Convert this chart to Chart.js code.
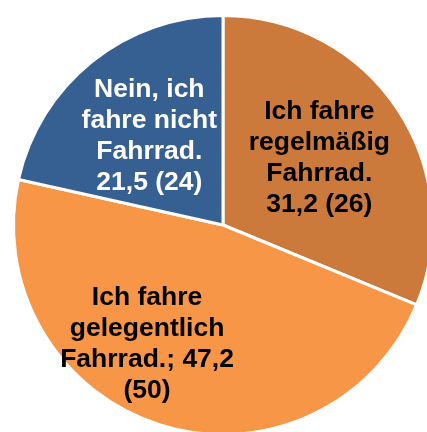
<!DOCTYPE html>
<html>
<head>
<meta charset="utf-8">
<script src="https://cdn.jsdelivr.net/npm/chart.js@4/dist/chart.umd.min.js"></script>
<style>
  html, body { margin: 0; padding: 0; background: #fff; overflow: hidden; }
  #wrap { width: 427px; height: 432px; overflow: hidden; }
</style>
</head>
<body>
<div id="wrap"><canvas id="pie" width="446" height="450"></canvas></div>
<script>
// answers (clockwise from 12 o'clock)
var categories = [
  ['Ich fahre', 'regelmäßig', 'Fahrrad.'],
  ['Ich fahre', 'gelegentlich', 'Fahrrad.'],
  ['Nein, ich', 'fahre nicht', 'Fahrrad.']
];
var shares = [31.2, 47.2, 21.5];   // percent
var counts = [26, 50, 24];         // n
var colors = ['#CB7A3B', '#F79646', '#376092'];
var textColors = ['#000000', '#000000', '#ffffff'];

function fmt(v) { return String(v).replace('.', ','); }

// label lines as they wrap in the original
var labelLines = categories.map(function (c, i) {
  if (i === 1) {
    return [c[0], c[1], c[2] + '; ' + fmt(shares[i]), '(' + counts[i] + ')'];
  }
  return c.concat([fmt(shares[i]) + ' (' + counts[i] + ')']);
});

// where the label sits: nudge from mid angle (deg) and fraction of radius
var labelNudge = [-1, 15, -1];
var labelDist = [0.56, 0.675, 0.55];

var sliceLabels = {
  id: 'sliceLabels',
  afterDatasetsDraw: function (chart) {
    var ctx = chart.ctx;
    var arcs = chart.getDatasetMeta(0).data;
    ctx.save();
    ctx.font = 'bold 26.5px "Liberation Sans", Arial, sans-serif';
    ctx.textAlign = 'center';
    ctx.textBaseline = 'middle';
    arcs.forEach(function (arc, i) {
      var p = arc.getProps(['x', 'y', 'startAngle', 'endAngle', 'outerRadius'], true);
      var mid = (p.startAngle + p.endAngle) / 2 + labelNudge[i] * Math.PI / 180;
      var cx = p.x + Math.cos(mid) * p.outerRadius * labelDist[i];
      var cy = p.y + Math.sin(mid) * p.outerRadius * labelDist[i];
      var lines = labelLines[i];
      ctx.fillStyle = textColors[i];
      for (var k = 0; k < lines.length; k++) {
        ctx.fillText(lines[k], cx, cy + (k - (lines.length - 1) / 2) * 31);
      }
    });
    ctx.restore();
  }
};

var chart = new Chart(document.getElementById('pie'), {
  type: 'pie',
  data: {
    labels: categories.map(function (c) { return c.join(' '); }),
    datasets: [{
      data: shares,
      backgroundColor: colors,
      borderColor: '#ffffff',
      borderWidth: 3
    }]
  },
  options: {
    responsive: false,
    animation: false,
    layout: { padding: 12 },
    plugins: {
      legend: { display: false },
      tooltip: { enabled: false }
    }
  },
  plugins: [sliceLabels]
});
</script>
</body>
</html>
